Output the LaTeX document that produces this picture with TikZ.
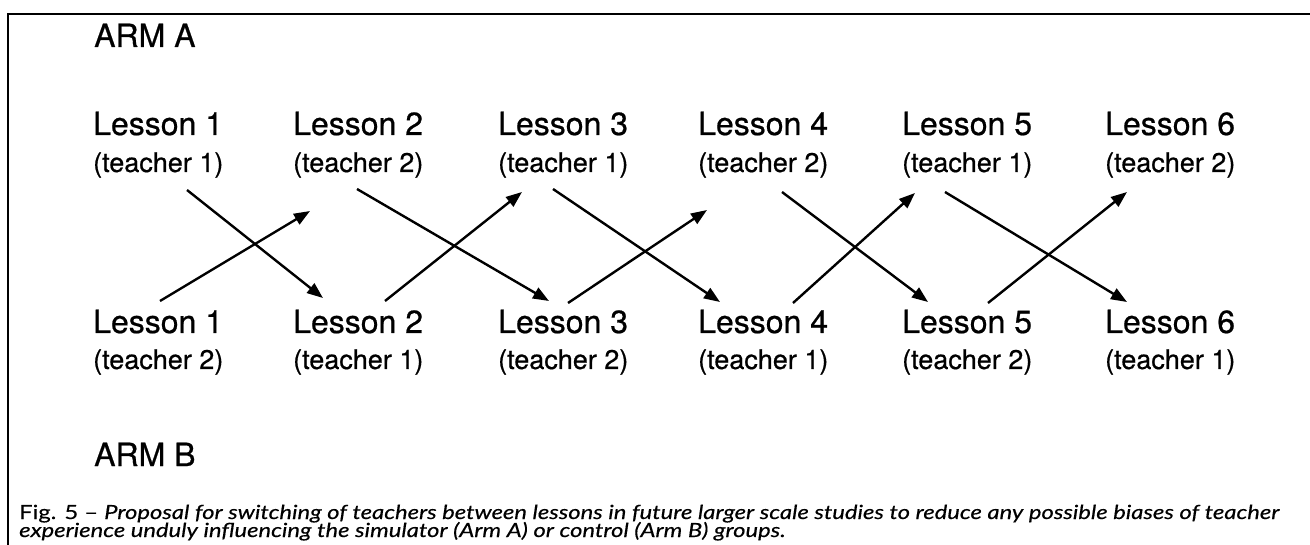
\documentclass[tikz,border=0pt]{standalone}
\usepackage{fontspec}
\setmainfont{TeX Gyre Heros}
\newfontfamily\heavy{TeX Gyre Heros}[FakeBold=0.6]
\newfontfamily\capfont{Lato}[FakeStretch=1.22, FakeBold=0.4, Ligatures=TeX]
\usetikzlibrary{arrows.meta}
\tikzset{
  lesson/.style={anchor=base west, inner sep=0pt, font=\heavy\fontsize{32}{36}\selectfont},
  teach/.style={anchor=base west, inner sep=0pt, font=\heavy\fontsize{27}{30}\selectfont},
  arm/.style={anchor=base west, inner sep=0pt, font=\heavy\fontsize{32}{36}\selectfont},
  capt/.style={anchor=base west, inner sep=0pt, font=\capfont\fontsize{19.5}{22}\selectfont},
  swap/.style={line width=2.4pt, -{Triangle[length=16pt,width=12pt]}},
  frame/.style={line width=1.8pt}
}
\begin{document}
\begin{tikzpicture}[x=1pt,y=-1pt]
\useasboundingbox (0,0) rectangle (1310,545);
\clip (0,0) rectangle (1310,545);
% frame
\coordinate (f1) at (8,545);
\coordinate (f2) at (8,14);
\coordinate (f3) at (1310,14);
\draw[frame] (f1) -- (f2) -- (f3);
% arm labels
\node[arm] (armA) at (94,47) {ARM A};
\node[arm] (armB) at (94,466) {ARM B};
% top row
\foreach \i/\x/\t in {1/93/1,2/293/2,3/498/1,4/698/2,5/902/1,6/1105/2}{
  \node[lesson] (A\i) at (\x,135) {Lesson \i};
  \node[teach] (TA\i) at (\x,172) {(teacher \t)};
}
% bottom row
\foreach \i/\x/\t in {1/93/2,2/293/1,3/498/2,4/698/1,5/902/2,6/1105/1}{
  \node[lesson] (B\i) at (\x,333) {Lesson \i};
  \node[teach] (TB\i) at (\x,369) {(teacher \t)};
}
% arrow end points
\coordinate (s1) at (187,190);  \coordinate (e1) at (323,298);
\coordinate (s2) at (160,301);  \coordinate (e2) at (310,211);
\coordinate (s3) at (357,189);  \coordinate (e3) at (549,301);
\coordinate (s4) at (385,301);  \coordinate (e4) at (522,192);
\coordinate (s5) at (553,189);  \coordinate (e5) at (720,302);
\coordinate (s6) at (568,303);  \coordinate (e6) at (707,210);
\coordinate (s7) at (782,192);  \coordinate (e7) at (928,302);
\coordinate (s8) at (793,303);  \coordinate (e8) at (915,193);
\coordinate (s9) at (945,192);  \coordinate (e9) at (1127,302);
\coordinate (s10) at (988,303); \coordinate (e10) at (1127,192);
\foreach \k in {1,...,10}{
  \draw[swap] (s\k) -- (e\k);
}
% caption
\node[capt] (cap1) at (19,519) {Fig. 5 – \textit{Proposal for switching of teachers between lessons in future larger scale studies to reduce any possible biases of teacher}};
\node[capt] (cap2) at (19,537) {\textit{experience unduly influencing the simulator (Arm A) or control (Arm B) groups.}};
\end{tikzpicture}
\end{document}
